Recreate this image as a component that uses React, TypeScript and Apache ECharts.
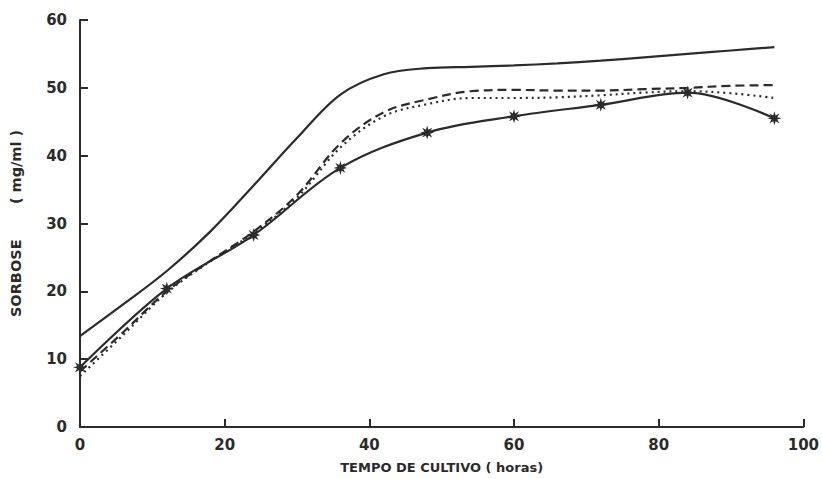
import React, { useEffect, useRef } from "react";
import * as echarts from "echarts";

// Upper solid curve (no markers)
const hoursTop = [0, 6, 12, 18, 24, 30, 36, 42, 48, 54, 60, 66, 72, 78, 84, 90, 96];
const sorboseTop = [13.4, 18.1, 23.0, 28.8, 35.6, 42.6, 49.0, 52.0, 52.9, 53.1, 53.3, 53.6, 54.0, 54.5, 55.0, 55.5, 56.0];

// Solid curve with star markers (measured points)
const hoursStar = [0, 12, 24, 36, 48, 60, 72, 84, 96];
const sorboseStar = [8.8, 20.4, 28.3, 38.2, 43.4, 45.8, 47.5, 49.3, 45.5];

// Dashed curve
const hoursDashed = [0, 6, 12, 18, 24, 30, 36, 42, 48, 54, 60, 66, 72, 78, 84, 90, 96];
const sorboseDashed = [8.2, 14.0, 20.0, 24.5, 28.8, 34.2, 41.8, 46.4, 48.3, 49.5, 49.7, 49.6, 49.6, 49.8, 50.0, 50.3, 50.4];

// Dotted curve
const hoursDotted = [0, 6, 12, 18, 24, 30, 36, 42, 48, 54, 60, 66, 72, 78, 84, 90, 96];
const sorboseDotted = [7.5, 13.6, 19.8, 24.4, 28.6, 33.8, 41.2, 45.8, 47.6, 48.5, 48.5, 48.6, 48.9, 49.3, 49.5, 49.2, 48.5];

const xTicks = [0, 20, 40, 60, 80, 100];
const yTicks = [0, 10, 20, 30, 40, 50, 60];

const xTitle = "TEMPO DE CULTIVO ( horas)";
const yTitle = "SORBOSE       ( mg/ml )";

const INK = "#2b2b2b";
const FONT = "DejaVu Sans";

function starPath(): string {
  const pts: string[] = [];
  const n = 8;
  for (let i = 0; i < n * 2; i++) {
    const a = (Math.PI * i) / n - Math.PI / 2;
    const r = i % 2 === 0 ? 50 : 22;
    const x = 50 + r * Math.cos(a);
    const y = 50 + r * Math.sin(a);
    pts.push(`${i === 0 ? "M" : "L"}${x.toFixed(2)} ${y.toFixed(2)}`);
  }
  return "path://" + pts.join(" ") + " Z";
}

function zip(xs: number[], ys: number[]) {
  return xs.map((x, i) => [x, ys[i]]);
}

export default function App() {
  const ref = useRef<HTMLDivElement>(null);

  useEffect(() => {
    if (!ref.current) return;
    const chart = echarts.init(ref.current, null, { renderer: "svg" });
    const axisCommon = {
      type: "value" as const,
      axisLine: { show: true, lineStyle: { color: INK, width: 2 } },
      axisTick: { show: true, inside: true, length: 8, lineStyle: { color: INK, width: 2 } },
      splitLine: { show: false },
      axisLabel: { color: INK, fontSize: 15, fontWeight: "bold" as const, fontFamily: FONT },
    };
    chart.setOption({
      animation: false,
      backgroundColor: "#ffffff",
      grid: { left: 80, right: 17, top: 20, bottom: 51 },
      xAxis: {
        ...axisCommon,
        min: xTicks[0],
        max: xTicks[xTicks.length - 1],
        interval: 20,
        axisLabel: { ...axisCommon.axisLabel, margin: 10 },
        name: xTitle,
        nameLocation: "middle",
        nameGap: 34,
        nameTextStyle: { color: INK, fontSize: 13, fontWeight: "bold", fontFamily: FONT },
      },
      yAxis: {
        ...axisCommon,
        min: yTicks[0],
        max: yTicks[yTicks.length - 1],
        interval: 10,
        axisLabel: { ...axisCommon.axisLabel, margin: 13 },
        name: yTitle,
        nameLocation: "middle",
        nameGap: 57,
        nameTextStyle: { color: INK, fontSize: 14.5, fontWeight: "bold", fontFamily: FONT },
      },
      series: [
        {
          type: "line",
          data: zip(hoursTop, sorboseTop),
          smooth: 0.35,
          showSymbol: false,
          lineStyle: { color: INK, width: 2.2 },
        },
        {
          type: "line",
          data: zip(hoursDashed, sorboseDashed),
          smooth: 0.35,
          showSymbol: false,
          lineStyle: { color: INK, width: 2.2, type: [9, 5] },
        },
        {
          type: "line",
          data: zip(hoursDotted, sorboseDotted),
          smooth: 0.35,
          showSymbol: false,
          lineStyle: { color: INK, width: 2.2, type: [2, 4] },
        },
        {
          type: "line",
          data: zip(hoursStar, sorboseStar),
          smooth: 0.35,
          symbol: starPath(),
          symbolSize: 14,
          itemStyle: { color: INK },
          lineStyle: { color: INK, width: 2.2 },
        },
      ],
    });
    return () => chart.dispose();
  }, []);

  return (
    <div
      ref={ref}
      style={{ position: "fixed", left: 0, top: 0, width: 822, height: 479, background: "#fff" }}
    />
  );
}
